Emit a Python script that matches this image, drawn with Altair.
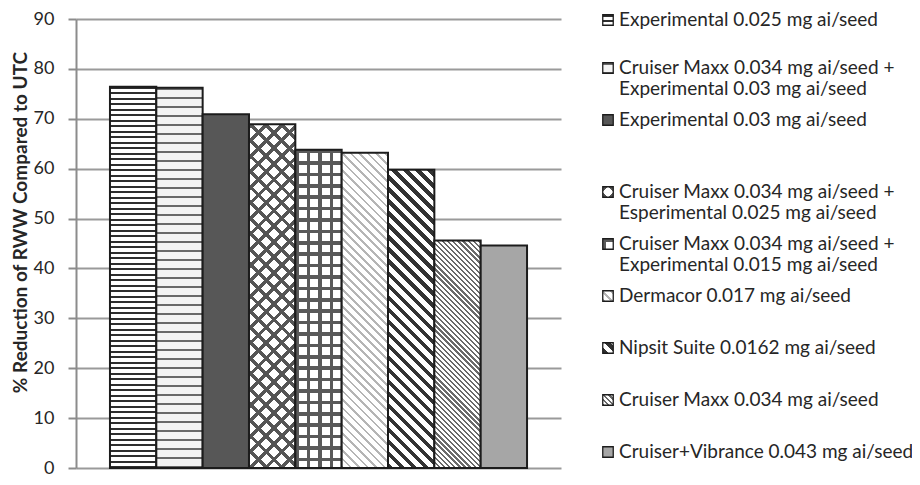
import math
import altair as alt
import pandas as pd

# ---- data ----
labels = [
    "Experimental 0.025 mg ai/seed",
    "Cruiser Maxx 0.034 mg ai/seed + Experimental 0.03 mg ai/seed",
    "Experimental 0.03 mg ai/seed",
    "Cruiser Maxx 0.034 mg ai/seed + Esperimental 0.025 mg ai/seed",
    "Cruiser Maxx 0.034 mg ai/seed + Experimental 0.015 mg ai/seed",
    "Dermacor 0.017 mg ai/seed",
    "Nipsit Suite 0.0162 mg ai/seed",
    "Cruiser Maxx 0.034 mg ai/seed",
    "Cruiser+Vibrance 0.043 mg ai/seed",
]
values = [76.4, 76.2, 70.9, 68.9, 63.8, 63.2, 59.8, 45.6, 44.6]
legend_lines = [
    ["Experimental 0.025 mg ai/seed"],
    ["Cruiser Maxx 0.034 mg ai/seed +", "Experimental 0.03 mg ai/seed"],
    ["Experimental 0.03 mg ai/seed"],
    ["Cruiser Maxx 0.034 mg ai/seed +", "Esperimental 0.025 mg ai/seed"],
    ["Cruiser Maxx 0.034 mg ai/seed +", "Experimental 0.015 mg ai/seed"],
    ["Dermacor 0.017 mg ai/seed"],
    ["Nipsit Suite 0.0162 mg ai/seed"],
    ["Cruiser Maxx 0.034 mg ai/seed"],
    ["Cruiser+Vibrance 0.043 mg ai/seed"],
]
y_ticks = list(range(0, 91, 10))
y_title = "% Reduction of RWW Compared to UTC"

# ---- layout / style ----
PLOT_W, PLOT_H = 485, 449
PAD_TOP = 11
PAD_BOTTOM = 9
Y_MAX = 90
PAD_OUTER = 0.733
FONT = "Lato"
FS = 19
FS_TICK = 18
TEXT_COLOR = "#262626"
GRID_COLOR = "#9a9a9a"
# legend row layout (page pixels of first line centre), line height
LEG_FIRST_Y = [20, 68, 120, 192, 244, 296, 348, 400, 452]
LEG_LINE_H = 21
PLOT_TOP_PAGE = 8 + PAD_TOP
LEG_SYM_X = 532
LEG_TEXT_X = 543

bar_w = PLOT_W / (len(values) + 2 * PAD_OUTER)
CLEAR = "rgba(255,255,255,0)"


def px_to_val(page_y):
    return Y_MAX - (page_y - PLOT_TOP_PAGE) * Y_MAX / PLOT_H


def _stops(span, period, dark_w, dark, light):
    stops = []
    k = 0
    while k * period < span:
        s = k * period / span
        e = min((k * period + dark_w) / span, 1.0)
        n = min((k + 1) * period / span, 1.0)
        stops += [(s, dark), (e, dark), (e, light), (n, light)]
        k += 1
    return [{"offset": round(o, 5), "color": c} for o, c in stops]


def horiz(h, period, dark_w, dark, light="#ffffff"):
    return {"gradient": "linear", "x1": 0, "y1": 0, "x2": 0, "y2": 1,
            "stops": _stops(h, period, dark_w, dark, light)}


def vert(w, period, dark_w, dark, light="#ffffff"):
    return {"gradient": "linear", "x1": 0, "y1": 0, "x2": 1, "y2": 0,
            "stops": _stops(w, period, dark_w, dark, light)}


def diag(w, h, period, dark_w, dark, light="#ffffff"):
    # stripes running top-left -> bottom-right
    r = w / h
    a = (1 + r) / (1 + r * r)
    span = (h + w) / math.sqrt(2)
    return {"gradient": "linear", "x1": 0, "y1": 1, "x2": a * r, "y2": 1 - a,
            "stops": _stops(span, period, dark_w, dark, light)}


def anti(w, h, period, dark_w, dark, light="#ffffff"):
    # stripes running bottom-left -> top-right
    r = w / h
    a = (1 + r) / (1 + r * r)
    span = (h + w) / math.sqrt(2)
    return {"gradient": "linear", "x1": 0, "y1": 0, "x2": a * r, "y2": a,
            "stops": _stops(span, period, dark_w, dark, light)}


def fill_for(i, w, h):
    if i == 0:
        return horiz(h, 5.5, 2.0, "#2e2e2e")
    if i == 1:
        return horiz(h, 9.0, 2.0, "#6a6a6a", "#f4f4f4")
    if i == 2:
        return "#575757"
    if i == 3:
        return diag(w, h, 11.0, 3.4, "#555555")
    if i == 4:
        return horiz(h, 11.4, 3.6, "#5a5a5a")
    if i == 5:
        return diag(w, h, 6.0, 2.0, "#b5b5b5")
    if i == 6:
        return diag(w, h, 8.5, 4.0, "#333333")
    if i == 7:
        return diag(w, h, 3.6, 1.6, "#6a6a6a")
    return "#a6a6a6"


def overlay_for(i, w, h):
    if i == 3:
        return anti(w, h, 11.0, 3.4, "#555555", CLEAR)
    if i == 4:
        return vert(w, 11.4, 3.6, "#5a5a5a", CLEAR)
    return None


df = pd.DataFrame({"idx": list(range(len(values))), "label": labels, "value": values})

leg_sym = pd.DataFrame({
    "idx": list(range(len(values))),
    "ly": [px_to_val(y) for y in LEG_FIRST_Y],
})
rows = []
for i, lines in enumerate(legend_lines):
    for j, t in enumerate(lines):
        rows.append({"idx": i, "text": t, "ly": px_to_val(LEG_FIRST_Y[i] + j * LEG_LINE_H)})
leg_txt = pd.DataFrame(rows)

y_axis = alt.Axis(
    values=y_ticks, title=y_title, grid=True, gridColor=GRID_COLOR, gridWidth=2,
    domainColor="#8c8c8c", domainWidth=2, tickColor="#8c8c8c", tickWidth=2, tickSize=8,
    labelFont=FONT, labelFontSize=FS_TICK, labelColor=TEXT_COLOR, labelPadding=14,
    titleFont=FONT, titleFontSize=FS, titleFontWeight="bold", titleColor=TEXT_COLOR,
    titleX=-56, titleY=203, titleAngle=270, titleAlign="center", titleBaseline="middle",
)
y_scale = alt.Scale(domain=[0, Y_MAX], nice=False, zero=True)
x_enc = alt.X("idx:O", axis=None, scale=alt.Scale(paddingInner=0, paddingOuter=PAD_OUTER))

layers = []
for i, v in enumerate(values):
    h = v * PLOT_H / Y_MAX
    base = alt.Chart(df).transform_filter(alt.datum.idx == i)
    enc = dict(x=x_enc, y=alt.Y("value:Q", scale=y_scale, axis=y_axis))
    layers.append(base.mark_bar(fill=fill_for(i, bar_w, h), strokeWidth=0, opacity=1).encode(**enc))
    ov = overlay_for(i, bar_w, h)
    if ov is not None:
        layers.append(base.mark_bar(fill=ov, strokeWidth=0, opacity=1).encode(**enc))
    layers.append(base.mark_bar(fillOpacity=0, stroke="#1c1c1c", strokeWidth=2, opacity=1).encode(**enc))

for i in range(len(values)):
    base = alt.Chart(leg_sym).transform_filter(alt.datum.idx == i)
    enc = dict(x=alt.value(LEG_SYM_X), y=alt.Y("ly:Q", scale=y_scale, axis=y_axis))
    layers.append(base.mark_square(size=110, fill=fill_for(i, 10.5, 10.5), strokeWidth=0, opacity=1).encode(**enc))
    ov = overlay_for(i, 10.5, 10.5)
    if ov is not None:
        layers.append(base.mark_square(size=110, fill=ov, strokeWidth=0, opacity=1).encode(**enc))
    layers.append(base.mark_square(size=110, filled=False, fillOpacity=0, stroke="#1c1c1c",
                                   strokeWidth=1.3, opacity=1).encode(**enc))

layers.append(
    alt.Chart(leg_txt).mark_text(
        align="left", baseline="middle", font=FONT, fontSize=FS, color=TEXT_COLOR
    ).encode(x=alt.value(LEG_TEXT_X), y=alt.Y("ly:Q", scale=y_scale, axis=y_axis), text="text:N")
)

chart = alt.layer(*layers).properties(
    width=PLOT_W, height=PLOT_H,
    autosize=alt.AutoSizeParams(type="none"),
    padding={"left": 68, "top": PAD_TOP, "right": 351, "bottom": PAD_BOTTOM},
).configure(background="white").configure_view(stroke=None)

chart.save("out.html", embed_options={"renderer": "svg", "actions": False})
